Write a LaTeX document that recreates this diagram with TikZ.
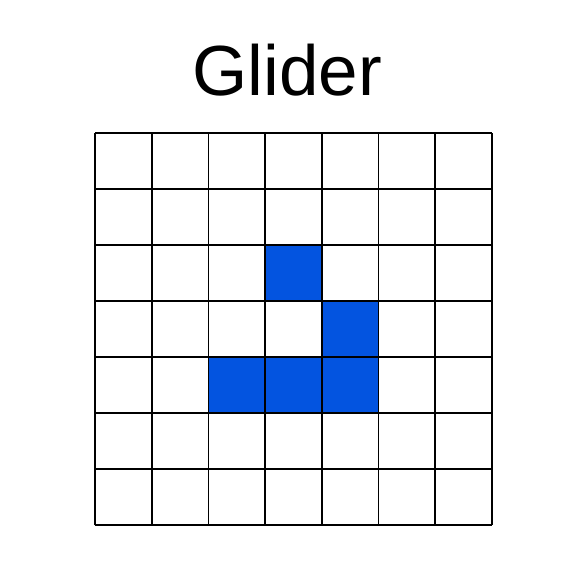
\documentclass[tikz,border=0pt]{standalone}
\usepackage{fontspec}
\setmainfont{Liberation Sans}
\definecolor{cellblue}{RGB}{3,84,224}
\begin{document}
\begin{tikzpicture}[x=1pt,y=1pt,
  gridline/.style={line width=1.7pt,black},
  live/.style={fill=cellblue}]
\useasboundingbox (0,0) rectangle (583,583);
\def\cw{56.714}
\def\ch{56}
\def\gx{95}
\def\gy{57.7}
\node[anchor=base,font=\fontsize{71}{80}\selectfont] (title) at (287,487.3) {Glider};
% live cells: (col,row) with row 0 at top
\foreach \c/\r in {3/2,4/3,2/4,3/4,4/4}{
  \fill[live] (\gx+\c*\cw, \gy+7*\ch-\r*\ch) rectangle (\gx+\c*\cw+\cw, \gy+7*\ch-\r*\ch-\ch);
}
\foreach \i in {0,...,7}{
  \draw[gridline] (\gx+\i*\cw, \gy) -- (\gx+\i*\cw, \gy+7*\ch);
  \draw[gridline] (\gx, \gy+\i*\ch) -- (\gx+7*\cw, \gy+\i*\ch);
}
\end{tikzpicture}
\end{document}
